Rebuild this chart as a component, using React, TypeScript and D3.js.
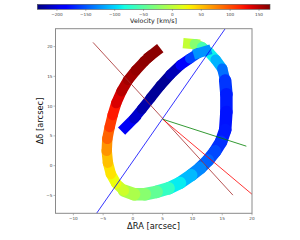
import React from "react";
import * as d3 from "d3";

// ---- data (arcsec, km/s) ----
const outerX = [9.3, 10.4, 11.6, 12.8, 13.9, 15.0, 15.5, 15.7, 15.7, 15.5, 14.8, 13.8, 12.6, 11.3, 9.8, 7.9, 6.0, 4.0, 2.0, 0.2, -1.5, -2.8, -3.7, -4.2, -4.4, -4.3, -3.9, -3.4, -2.8, -1.9, -0.8, 0.5, 1.9, 3.0, 3.9];
const outerY = [20.5, 20.4, 19.9, 19.0, 17.8, 16.3, 14.3, 12.0, 9.0, 6.0, 4.0, 2.4, 0.9, -0.4, -1.6, -2.9, -3.8, -4.4, -4.8, -4.8, -4.2, -3.0, -1.4, 0.5, 2.5, 4.5, 6.5, 8.5, 10.5, 12.5, 14.4, 16.0, 17.5, 18.5, 19.2];
const outerV = [15, -10, -45, -75, -100, -125, -155, -170, -175, -178, -170, -160, -150, -140, -120, -100, -80, -55, -35, -18, 0, 15, 30, 42, 60, 80, 100, 115, 130, 145, 155, 160, 163, 165, 165];

const innerX = [-1.3, 0.2, 1.5, 3.0, 4.6, 6.3, 8.0, 9.6, 11.0, 12.3];
const innerY = [6.4, 7.9, 9.5, 11.4, 13.4, 15.3, 16.9, 18.0, 18.9, 19.3];
const innerV = [-185, -200, -215, -222, -228, -225, -205, -175, -140, -110];

const lineNames = ["blue", "brown", "red", "green"];
const lineX1 = [-6.1, -6.7, 5.0, 5.0];
const lineY1 = [-8.0, 20.7, 7.8, 7.8];
const lineX2 = [15.5, 16.8, 20.0, 19.05];
const lineY2 = [23.0, -4.95, -4.8, 3.27];

const xTicks = [-10, -5, 0, 5, 10, 15, 20];
const yTicks = [-5, 0, 5, 10, 15, 20];
const cbTicks = [-200, -150, -100, -50, 0, 50, 100, 150];
const vDomain = [-234, 169];

// ---- jet colormap ----
function seg(pts: number[][], t: number) {
  for (let i = 1; i < pts.length; i++) {
    if (t <= pts[i][0]) {
      const [x0, y0] = pts[i - 1];
      const [x1, y1] = pts[i];
      return y0 + ((t - x0) / (x1 - x0)) * (y1 - y0);
    }
  }
  return pts[pts.length - 1][1];
}
const R = [[0, 0], [0.35, 0], [0.66, 1], [0.89, 1], [1, 0.5]];
const G = [[0, 0], [0.125, 0], [0.375, 1], [0.64, 1], [0.91, 0], [1, 0]];
const B = [[0, 0.5], [0.11, 1], [0.34, 1], [0.65, 0], [1, 0]];
function jet(t: number) {
  t = Math.max(0, Math.min(1, t));
  return d3.rgb(seg(R, t) * 255, seg(G, t) * 255, seg(B, t) * 255).formatHex();
}

const FONT = "DejaVu Sans";

export default function App() {
  const x = d3.scaleLinear().domain([-13, 20]).range([55.5, 252]);
  const y = d3.scaleLinear().domain([-8, 23]).range([213.3, 28.7]);
  const vScale = d3.scaleLinear().domain(vDomain).range([0, 1]);
  const cb = d3.scaleLinear().domain(vDomain).range([37.3, 270]);
  const pxPerUnit = x(1) - x(0);

  const band = (xs: number[], ys: number[], vs: number[], w: (i: number) => number, key: string) =>
    xs.slice(1).map((_, i) => (
      <line
        key={key + i}
        x1={x(xs[i])}
        y1={y(ys[i])}
        x2={x(xs[i + 1])}
        y2={y(ys[i + 1])}
        stroke={jet(vScale((vs[i] + vs[i + 1]) / 2))}
        strokeWidth={w(i) * pxPerUnit}
        strokeLinecap={i === 0 || i === xs.length - 2 ? "square" : "round"}
      />
    ));

  const stops = d3.range(0, 1.0001, 0.025);
  const frame = "#8a8a8a";
  const tickText = "#444";
  const outerW = (i: number) => (i < 6 ? 1.75 : i < 20 ? 2.1 : 1.75);

  return (
    <svg width={300} height={240} style={{ position: "fixed", left: 0, top: 0, background: "#fff" }} fontFamily={FONT}>
      <defs>
        <linearGradient id="jetg" x1="0" x2="1" y1="0" y2="0">
          {stops.map((s) => (
            <stop key={s} offset={s} stopColor={jet(s)} />
          ))}
        </linearGradient>
        <clipPath id="plotclip">
          <rect x={x(-13)} y={y(23)} width={x(20) - x(-13)} height={y(-8) - y(23)} />
        </clipPath>
      </defs>

      {/* colorbar */}
      <rect x={cb(vDomain[0])} y={4.3} width={cb(vDomain[1]) - cb(vDomain[0])} height={5} fill="url(#jetg)" stroke="#555" strokeWidth={0.6} />
      {cbTicks.map((t) => (
        <g key={t}>
          <line x1={cb(t)} x2={cb(t)} y1={9.3} y2={10.8} stroke="#555" strokeWidth={0.5} />
          <text x={cb(t)} y={15.5} fontSize={4.2} textAnchor="middle" fill={tickText}>
            {t < 0 ? "\u2212" + Math.abs(t) : String(t)}
          </text>
        </g>
      ))}
      <text x={153.5} y={22.6} fontSize={6.3} textAnchor="middle" fill="#111">Velocity [km/s]</text>

      {/* data */}
      <g clipPath="url(#plotclip)">
        {band(outerX, outerY, outerV, outerW, "o")}
        {band(innerX, innerY, innerV, () => 1.7, "i")}
        {lineNames.map((c, i) => (
          <line key={c} x1={x(lineX1[i])} y1={y(lineY1[i])} x2={x(lineX2[i])} y2={y(lineY2[i])} stroke={c} strokeWidth={0.8} />
        ))}
      </g>

      {/* frame */}
      <rect x={x(-13)} y={y(23)} width={x(20) - x(-13)} height={y(-8) - y(23)} fill="none" stroke={frame} strokeWidth={1} />

      {/* ticks */}
      {xTicks.map((t) => (
        <g key={"x" + t}>
          <line x1={x(t)} x2={x(t)} y1={y(-8)} y2={y(-8) + 2} stroke={frame} strokeWidth={0.6} />
          <text x={x(t)} y={y(-8) + 6.5} fontSize={4.2} textAnchor="middle" fill={tickText}>
            {t < 0 ? "\u2212" + Math.abs(t) : String(t)}
          </text>
        </g>
      ))}
      {yTicks.map((t) => (
        <g key={"y" + t}>
          <line x1={x(-13) - 2} x2={x(-13)} y1={y(t)} y2={y(t)} stroke={frame} strokeWidth={0.6} />
          <text x={x(-13) - 3} y={y(t) + 1.5} fontSize={4.2} textAnchor="end" fill={tickText}>
            {t < 0 ? "\u2212" + Math.abs(t) : String(t)}
          </text>
        </g>
      ))}

      <text x={153.5} y={228.5} fontSize={8.3} textAnchor="middle" fill="#111">ΔRA [arcsec]</text>
      <text transform={`translate(42.5,121) rotate(-90)`} fontSize={8.3} textAnchor="middle" fill="#111">Δδ [arcsec]</text>
    </svg>
  );
}
